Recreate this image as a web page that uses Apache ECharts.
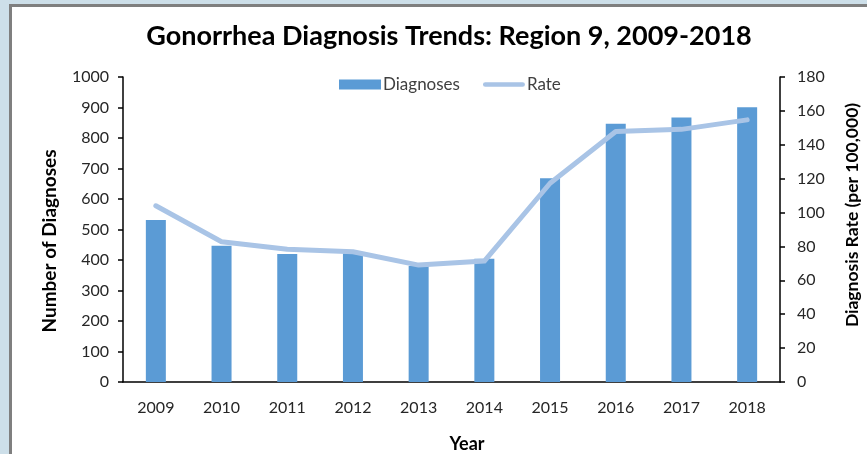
<!DOCTYPE html>
<html>
<head>
<meta charset="utf-8">
<script src="https://cdn.jsdelivr.net/npm/echarts@6/dist/echarts.min.js"></script>
<style>
html,body{margin:0;padding:0;width:867px;height:454px;overflow:hidden;background:#cddfe9;}
#frame{position:absolute;left:9px;top:4px;width:858px;height:450px;border-left:3px solid #7f7f7f;border-top:3px solid #7f7f7f;background:#fff;}
#chart{position:absolute;left:0;top:0;width:855px;height:447px;}
</style>
</head>
<body>
<div id="frame"><div id="chart"></div></div>
<script>
const years = ['2009','2010','2011','2012','2013','2014','2015','2016','2017','2018'];
const diagnoses = [531, 447, 420, 422, 380, 404, 668, 847, 867, 901];
const rate = [104, 82.8, 78.3, 76.9, 69, 71.4, 117.3, 147.8, 149.1, 154.7];
const leftTicks = [0, 1000, 100];
const rightTicks = [0, 180, 20];

const FONT = 'Lato';
const chart = echarts.init(document.getElementById('chart'));
function nameText(x, y, text, size, rot) {
  return {
    type: 'text', x: x, y: y, rotation: rot,
    style: {text: text, font: 'bold ' + size + 'px ' + FONT, fill: '#000',
            align: 'center', verticalAlign: 'middle', textAlign: 'center', textVerticalAlign: 'middle'}
  };
}
chart.setOption({
  animation: false,
  textStyle: {fontFamily: FONT},
  title: {
    text: 'Gonorrhea Diagnosis Trends: Region 9, 2009-2018',
    left: 432, top: 11, textAlign: 'center',
    textStyle: {fontFamily: FONT, fontWeight: 'bold', fontSize: 27, color: '#000'}
  },
  legend: {
    left: 322, top: 64, itemWidth: 42, itemHeight: 10, itemGap: 23,
    symbolKeepAspect: true,
    textStyle: {fontFamily: FONT, fontSize: 17, color: '#404040', padding: [0,0,0,-3]},
    data: [
      {name: 'Diagnoses', icon: 'rect'},
      {name: 'Rate', icon: 'path://M2,0 L42,0 A2.5,2.5 0 0 1 42,5 L2,5 A2.5,2.5 0 0 1 2,0 Z', itemStyle: {color: '#a9c4e6'}}
    ]
  },
  grid: {left: 111, right: 87, top: 70, bottom: 72},
  graphic: [
    nameText(38, 234, 'Number of Diagnoses', 19, Math.PI / 2),
    nameText(840, 208, 'Diagnosis Rate (per 100,000)', 17.5, Math.PI / 2),
    nameText(455, 437, 'Year', 18, 0)
  ],
  xAxis: {
    type: 'category', data: years,
    axisLine: {lineStyle: {color: '#000', width: 1.5}},
    axisTick: {show: false},
    axisLabel: {fontFamily: FONT, fontSize: 16, color: '#262626', margin: 18}
  },
  yAxis: [{
    type: 'value', min: leftTicks[0], max: leftTicks[1], interval: leftTicks[2],
    axisLine: {show: true, lineStyle: {color: '#000', width: 1.5}},
    axisTick: {show: true, length: 5, lineStyle: {color: '#000', width: 1.5}},
    splitLine: {show: false},
    axisLabel: {fontFamily: FONT, fontSize: 16, color: '#262626', margin: 14, formatter: v => String(v)}
  }, {
    type: 'value', min: rightTicks[0], max: rightTicks[1], interval: rightTicks[2],
    axisLine: {show: true, lineStyle: {color: '#000', width: 1.5}},
    axisTick: {show: true, length: 5, lineStyle: {color: '#000', width: 1.5}},
    splitLine: {show: false},
    axisLabel: {fontFamily: FONT, fontSize: 16, color: '#262626', margin: 17, formatter: v => String(v)}
  }],
  series: [{
    name: 'Diagnoses', type: 'bar', data: diagnoses, barWidth: 20,
    itemStyle: {color: '#5b9bd5'}
  }, {
    name: 'Rate', type: 'line', yAxisIndex: 1, data: rate,
    symbol: 'none', lineStyle: {color: '#a9c4e6', width: 5, cap: 'round', join: 'round'},
    itemStyle: {color: '#a9c4e6'}
  }]
});
</script>
</body>
</html>
